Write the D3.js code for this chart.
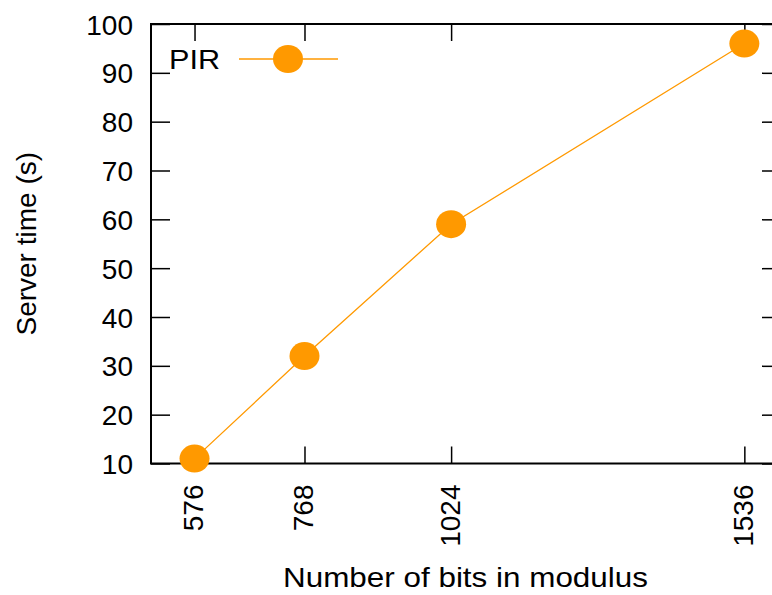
<!DOCTYPE html>
<html>
<head>
<meta charset="utf-8">
<script src="https://cdn.jsdelivr.net/npm/d3@7"></script>
<style>
  body { margin: 0; background: #fff; }
  svg { display: block; overflow: hidden; }
  text { font-family: "Liberation Sans", Arial, sans-serif; fill: #000; }
</style>
</head>
<body>
<div id="chart"></div>
<script>
// data
let bits = [576, 768, 1024, 1536];
let serverTime = [11, 32, 59, 96];
let yTicks = [10, 20, 30, 40, 50, 60, 70, 80, 90, 100];
let seriesName = "PIR";

let W = 772, H = 595;
let plotLeft = 151, plotRight = 781, plotTop = 24, plotBottom = 463.5;
let orange = "#ff9900";

let svg = d3.select("#chart").append("svg")
    .attr("width", W)
    .attr("height", H);

let x = d3.scaleLinear().domain([500, 1600]).range([plotLeft, plotRight]);
let y = d3.scaleLinear().domain([10, 100]).range([plotBottom, plotTop]);

// axes, ticks point inwards (gnuplot style)
let gx = svg.append("g")
    .attr("transform", "translate(0," + plotBottom + ")")
    .call(d3.axisBottom(x).tickValues(bits).tickSize(-17).tickSizeOuter(0).tickFormat(d3.format("d")));
gx.selectAll("text")
    .attr("transform", "rotate(-90)")
    .attr("x", -21)
    .attr("y", 0)
    .attr("dy", "0.3em")
    .attr("text-anchor", "end");

let gxTop = svg.append("g")
    .attr("transform", "translate(0," + plotTop + ")")
    .call(d3.axisTop(x).tickValues(bits).tickSize(-17).tickSizeOuter(0).tickFormat(""));

let gy = svg.append("g")
    .attr("transform", "translate(" + plotLeft + ",0)")
    .call(d3.axisLeft(y).tickValues(yTicks).tickSize(-19).tickSizeOuter(0).tickPadding(18));
gy.selectAll("text").attr("dy", "0.36em");

let gyRight = svg.append("g")
    .attr("transform", "translate(" + plotRight + ",0)")
    .call(d3.axisRight(y).tickValues(yTicks).tickSize(-19).tickSizeOuter(0).tickFormat(""));

svg.selectAll(".domain").remove();
svg.selectAll(".tick line").attr("stroke", "#000").attr("stroke-width", 1.5);
svg.selectAll(".tick text").style("font-size", "28px").attr("fill", "#000");

// frame
svg.append("rect")
    .attr("x", plotLeft).attr("y", plotTop)
    .attr("width", plotRight - plotLeft).attr("height", plotBottom - plotTop)
    .attr("fill", "none")
    .attr("stroke", "#000")
    .attr("stroke-width", 2);

// axis titles
svg.append("text")
    .text("Number of bits in modulus")
    .attr("x", 283)
    .attr("y", 587)
    .attr("textLength", 365)
    .attr("lengthAdjust", "spacingAndGlyphs")
    .style("font-size", "28px");

svg.append("text")
    .text("Server time (s)")
    .attr("transform", "translate(36," + ((plotTop + plotBottom) / 2) + ") rotate(-90)")
    .attr("text-anchor", "middle")
    .style("font-size", "28px");

// series
let points = bits.map((b, i) => ({ b: b, t: serverTime[i] }));

let line = d3.line()
    .x(d => x(d.b))
    .y(d => y(d.t));

svg.append("path")
    .datum(points)
    .attr("d", line)
    .attr("fill", "none")
    .attr("stroke", orange)
    .attr("stroke-width", 1.3);

svg.selectAll(".dot").data(points).enter().append("ellipse")
    .attr("class", "dot")
    .attr("cx", d => x(d.b))
    .attr("cy", d => y(d.t))
    .attr("rx", 15)
    .attr("ry", 14)
    .attr("fill", orange);

// legend
let legend = svg.append("g").attr("transform", "translate(0,59)");
legend.append("text")
    .text(seriesName)
    .attr("x", 169)
    .attr("y", 0)
    .attr("dy", "0.36em")
    .attr("textLength", 51)
    .attr("lengthAdjust", "spacingAndGlyphs")
    .style("font-size", "28px");
legend.append("line")
    .attr("x1", 239).attr("x2", 338)
    .attr("y1", 0).attr("y2", 0)
    .attr("stroke", orange)
    .attr("stroke-width", 1.3);
legend.append("ellipse")
    .attr("cx", 288)
    .attr("cy", 0)
    .attr("rx", 15)
    .attr("ry", 14)
    .attr("fill", orange);
</script>
</body>
</html>
